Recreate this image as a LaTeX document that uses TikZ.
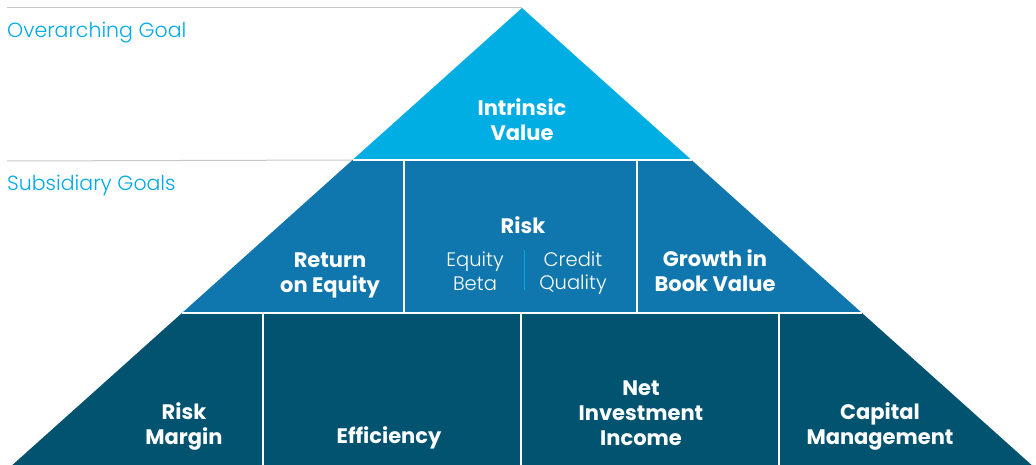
\documentclass[tikz,border=0pt]{standalone}
\usepackage{fontspec}
\setmainfont{Poppins}
\newfontfamily\boldf{Poppins Bold}
\newfontfamily\lightf{Poppins Light}
\definecolor{topc}{RGB}{0,174,228}
\definecolor{midc}{RGB}{16,119,174}
\definecolor{botc}{RGB}{2,83,111}
\definecolor{labc}{RGB}{0,170,232}
\definecolor{rulec}{RGB}{200,200,200}
\tikzset{
  x=1pt, y=-1pt,
  sep/.style={white, line width=1.6pt},
  guide/.style={rulec, line width=1pt},
  bold/.style={text=white, font=\boldf\fontsize{21}{25}\selectfont, align=center, inner sep=0pt},
  thin/.style={text=white, font=\lightf\fontsize{19.5}{23.5}\selectfont, align=center, inner sep=0pt},
  lab/.style={text=labc, font=\lightf\fontsize{20.5}{24}\selectfont, anchor=base west, inner sep=0pt},
}
\begin{document}
\begin{tikzpicture}
\useasboundingbox (0,0) rectangle (1036,465);
\coordinate (apex) at (522,8);
\coordinate (l1) at (352.5,160); \coordinate (r1) at (691.5,160);
\coordinate (l2) at (182,313);   \coordinate (r2) at (862,313);
\coordinate (l3) at (12.4,465);  \coordinate (r3) at (1031.6,465);
% guides
\coordinate (g1) at (7,8);
\coordinate (g2) at (7,161);
\draw[guide] (g1) -- (apex);
\draw[guide] (g2) -- (l1);
% tiers
\fill[topc] (apex) -- (r1) -- (l1) -- cycle;
\fill[midc] (l1) -- (r1) -- (r2) -- (l2) -- cycle;
\fill[botc] (l2) -- (r2) -- (r3) -- (l3) -- cycle;
% separators
\draw[sep] (l1) -- (r1);
\draw[sep] (l2) -- (r2);
\coordinate (m1t) at (404,160); \coordinate (m1b) at (404,313);
\coordinate (m2t) at (637,160); \coordinate (m2b) at (637,313);
\draw[sep] (m1t) -- (m1b);
\draw[sep] (m2t) -- (m2b);
\coordinate (b1t) at (263,313); \coordinate (b1b) at (263,465);
\coordinate (b2t) at (521,313); \coordinate (b2b) at (521,465);
\coordinate (b3t) at (779,313); \coordinate (b3b) at (779,465);
\draw[sep] (b1t) -- (b1b);
\draw[sep] (b2t) -- (b2b);
\draw[sep] (b3t) -- (b3b);
% risk divider
\coordinate (dv1) at (524,250); \coordinate (dv2) at (524,290);
\draw[topc, line width=1pt] (dv1) -- (dv2);
% labels
\node[lab] (over) at (7,38) {Overarching Goal};
\node[lab] (subs) at (7,191) {Subsidiary Goals};
% texts
\node[bold] (iv) at (522,120) {Intrinsic\\Value};
\node[bold] (roe) at (330,275) {Return\\on Equity};
\node[bold] (risk) at (523,225) {Risk};
\node[thin] (eb) at (475,271) {Equity\\Beta};
\node[thin] (cq) at (573,273) {Credit\\Quality};
\node[bold] (gbv) at (715,271) {Growth in\\Book Value};
\node[bold] (rm) at (184,426.5) {Risk\\Margin};
\node[bold] (eff) at (389,438) {Efficiency};
\node[bold] (nii) at (641,413.5) {Net\\Investment\\Income};
\node[bold] (cm) at (880,426.5) {Capital\\Management};
\end{tikzpicture}
\end{document}
